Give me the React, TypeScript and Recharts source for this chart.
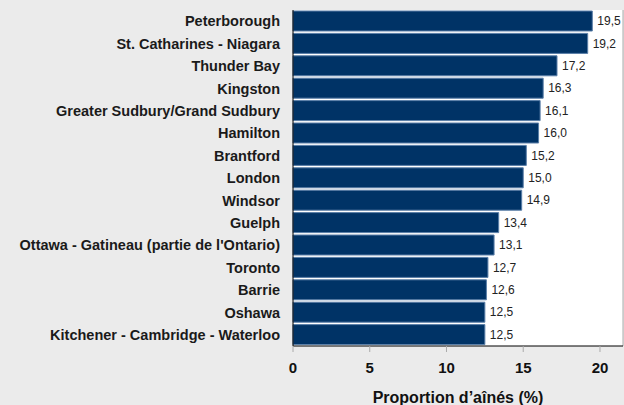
import { BarChart, Bar, XAxis, YAxis, CartesianGrid, LabelList, ReferenceLine } from "recharts";

const cities = [
  "Peterborough",
  "St. Catharines - Niagara",
  "Thunder Bay",
  "Kingston",
  "Greater Sudbury/Grand Sudbury",
  "Hamilton",
  "Brantford",
  "London",
  "Windsor",
  "Guelph",
  "Ottawa - Gatineau (partie de l'Ontario)",
  "Toronto",
  "Barrie",
  "Oshawa",
  "Kitchener - Cambridge - Waterloo",
];

const seniorShare = [19.5, 19.2, 17.2, 16.3, 16.1, 16.0, 15.2, 15.0, 14.9, 13.4, 13.1, 12.7, 12.6, 12.5, 12.5];

const xTicks = [0, 5, 10, 15, 20];

const data = cities.map((name, i) => ({ name, value: seniorShare[i] }));

const FONT = "'Liberation Sans', Arial, sans-serif";

export default function App() {
  return (
    <div
      style={{
        position: "absolute",
        top: 0,
        left: 0,
        width: 624,
        height: 405,
        background: "#ebebeb",
        fontFamily: FONT,
      }}
    >
      <BarChart
        width={624}
        height={405}
        data={data}
        layout="vertical"
        margin={{ top: 10, right: 1, bottom: 0, left: 0 }}
        barCategoryGap={1}
      >
        <CartesianGrid fill="#ffffff" horizontal={false} vertical={false} />
        <XAxis
          type="number"
          domain={[0, 21.5]}
          ticks={xTicks}
          height={59}
          axisLine={{ stroke: "#000" }}
          tickLine={{ stroke: "#aaa" }}
          tickSize={6}
          tickMargin={10}
          tick={{ fontSize: 15, fontWeight: "bold", fill: "#111", fontFamily: FONT }}
          label={{
            value: "Proportion d’aînés (%)",
            position: "insideBottom",
            offset: 2,
            style: { fontSize: 16, fontWeight: "bold", fill: "#111", fontFamily: FONT },
          }}
        />
        <YAxis
          type="category"
          dataKey="name"
          width={293}
          axisLine={{ stroke: "#000" }}
          tickLine={false}
          tickMargin={7}
          interval={0}
          tick={{ fontSize: 14.5, fontWeight: "bold", fill: "#1a1a1a", fontFamily: FONT }}
        />
        <ReferenceLine x={21.5} stroke="#aaa" />
        <Bar dataKey="value" fill="#003366" stroke="#5a7fa8" strokeWidth={1} isAnimationActive={false}>
          <LabelList
            dataKey="value"
            position="right"
            offset={5}
            formatter={(v: number) => v.toFixed(1).replace(".", ",")}
            style={{ fontSize: 12, fill: "#222", fontFamily: FONT }}
          />
        </Bar>
      </BarChart>
    </div>
  );
}
